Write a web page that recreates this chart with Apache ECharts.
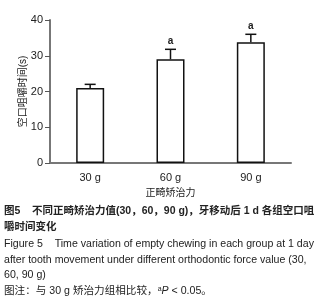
<!DOCTYPE html>
<html>
<head>
<meta charset="utf-8">
<script src="https://cdn.jsdelivr.net/npm/echarts@6/dist/echarts.min.js"></script>
<style>
  html, body { margin: 0; padding: 0; background: #fff; }
  #chart { width: 332px; height: 302px; }
</style>
</head>
<body>
<div id="chart"></div>
<script>
  // data
  const categories = ['30 g', '60 g', '90 g'];
  const means = [21, 29, 33.8];
  const errors = [1, 2.8, 2.2];
  const sigLabels = ['', 'a', 'a'];
  const yTicks = [0, 10, 20, 30, 40];

  const font = '"Liberation Sans", Arial, sans-serif';
  const cjk = '"Liberation Sans", "Noto Sans CJK SC", sans-serif';

  const chart = echarts.init(document.getElementById('chart'), null, { renderer: 'canvas' });

  const option = {
    animation: false,
    grid: { left: 50, right: 41, top: 20, bottom: 139, containLabel: false },
    xAxis: {
      type: 'category',
      data: categories,
      name: '正畸矫治力',
      nameLocation: 'middle',
      nameGap: 25,
      nameTextStyle: { fontFamily: cjk, fontSize: 10, color: '#222' },
      axisLine: { lineStyle: { color: '#777', width: 2 } },
      axisTick: { alignWithLabel: true, length: 3, lineStyle: { color: '#555', width: 1 } },
      axisLabel: { fontFamily: font, fontSize: 11, color: '#222', margin: 9 }
    },
    yAxis: {
      type: 'value',
      min: yTicks[0],
      max: yTicks[yTicks.length - 1],
      interval: 10,
      name: '空口咀嚼时间(s)',
      nameLocation: 'middle',
      nameGap: 22,
      nameMoveOverlap: false,
      nameTextStyle: { fontFamily: cjk, fontSize: 10, color: '#222' },
      axisLine: { show: true, lineStyle: { color: '#777', width: 2 } },
      axisTick: { show: true, length: 5, lineStyle: { color: '#555', width: 1 } },
      axisLabel: { fontFamily: font, fontSize: 11, color: '#222', margin: 7 },
      splitLine: { show: false }
    },
    series: [
      {
        type: 'bar',
        data: means,
        barWidth: 28,
        itemStyle: { color: '#fff', borderColor: '#111', borderWidth: 1.5 },
        z: 2
      },
      {
        type: 'custom',
        z: 3,
        data: means.map((m, i) => [i, m, m + errors[i], sigLabels[i]]),
        renderItem: function (params, api) {
          const base = api.coord([api.value(0), api.value(1)]);
          const top = api.coord([api.value(0), api.value(2)]);
          const capHalf = 5.5;
          const children = [
            { type: 'line', shape: { x1: base[0], y1: base[1], x2: top[0], y2: top[1] },
              style: { stroke: '#111', lineWidth: 1.5 } },
            { type: 'line', shape: { x1: top[0] - capHalf, y1: top[1], x2: top[0] + capHalf, y2: top[1] },
              style: { stroke: '#111', lineWidth: 1.5 } }
          ];
          const sig = sigLabels[params.dataIndex];
          if (sig) {
            children.push({
              type: 'text',
              style: { text: sig, x: top[0], y: top[1] - 3, align: 'center', verticalAlign: 'bottom',
                font: 'bold 10px ' + font, fill: '#222' }
            });
          }
          return { type: 'group', children: children };
        }
      }
    ],
    graphic: [
      { type: 'text', left: 4, top: 206,
        style: { text: '图5    不同正畸矫治力值(30，60，90 g)，牙移动后 1 d 各组空口咀', font: 'bold 10.5px ' + cjk, fill: '#222' } },
      { type: 'text', left: 4, top: 222,
        style: { text: '嚼时间变化', font: 'bold 10.5px ' + cjk, fill: '#222' } },
      { type: 'text', left: 4, top: 239,
        style: { text: 'Figure 5    Time variation of empty chewing in each group at 1 day', font: '10.6px ' + font, fill: '#222' } },
      { type: 'text', left: 4, top: 255,
        style: { text: 'after tooth movement under different orthodontic force value (30,', font: '10.6px ' + font, fill: '#222' } },
      { type: 'text', left: 4, top: 270,
        style: { text: '60, 90 g)', font: '10.6px ' + font, fill: '#222' } },
      { type: 'text', left: 4, top: 286,
        style: { rich: { n: { font: '10.6px ' + cjk, fill: '#222' }, s: { font: '7px ' + font, fill: '#222', verticalAlign: 'top' }, i: { font: 'italic 10.6px ' + font, fill: '#222' } },
          text: '{n|图注：与 30 g 矫治力组相比较，}{s|a}{i|P}{n| < 0.05。}' } }
    ]
  };

  chart.setOption(option);
</script>
</body>
</html>
